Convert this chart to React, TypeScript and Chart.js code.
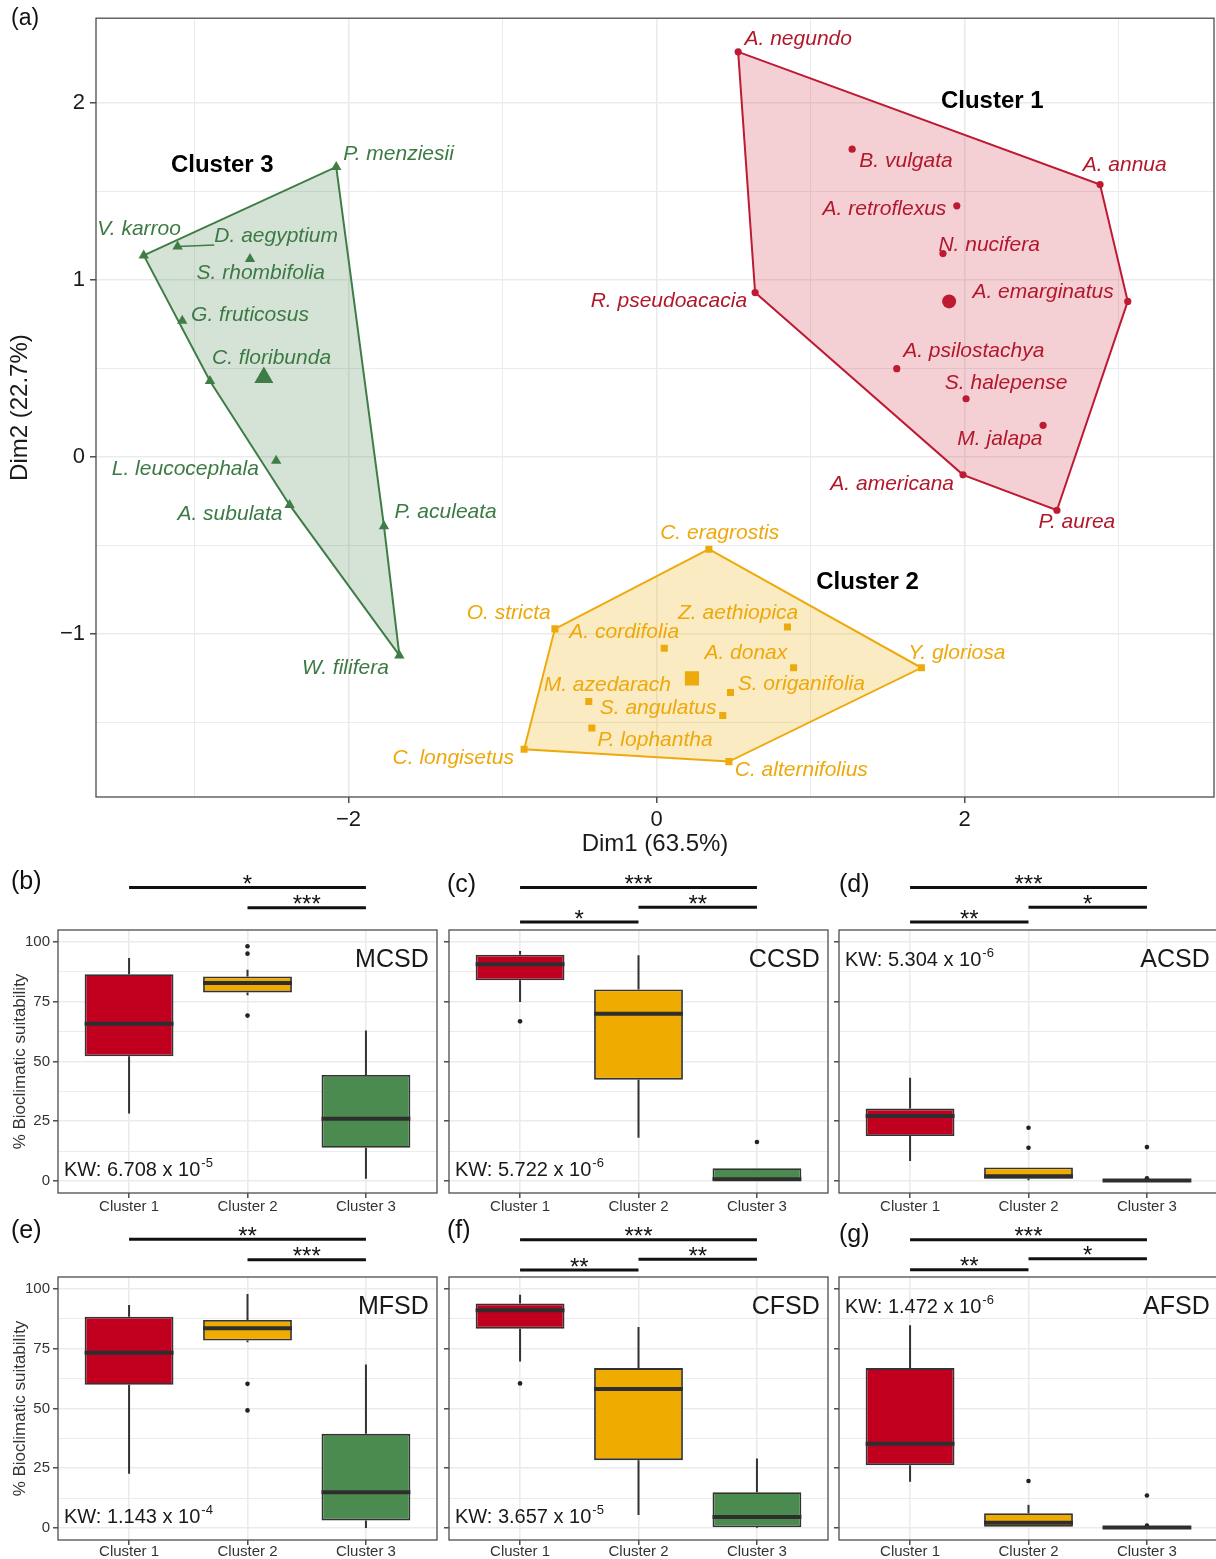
import React, { useEffect, useRef } from 'react';
import { Chart, registerables } from 'chart.js';
Chart.register(...registerables);

const FONT = '"Liberation Sans", Arial, Helvetica, sans-serif';

// ---------------- (a) PCA cluster plot ----------------
const c1Names = ['A. negundo', 'B. vulgata', 'A. annua', 'A. retroflexus', 'N. nucifera', 'A. emarginatus', 'R. pseudoacacia', 'A. psilostachya', 'S. halepense', 'M. jalapa', 'A. americana', 'P. aurea'];
const c1X = [0.53, 1.27, 2.88, 1.95, 1.86, 3.06, 0.64, 1.56, 2.01, 2.51, 1.99, 2.60];
const c1Y = [2.29, 1.74, 1.54, 1.42, 1.15, 0.88, 0.93, 0.50, 0.33, 0.18, -0.10, -0.30];
const c1LabelX = [0.92, 1.62, 3.04, 1.48, 2.16, 2.51, 0.08, 2.06, 2.27, 2.23, 1.53, 2.73];
const c1LabelY = [2.36, 1.67, 1.65, 1.40, 1.20, 0.93, 0.88, 0.60, 0.42, 0.10, -0.15, -0.37];
const c1Hull = [0, 2, 5, 11, 10, 6];
const c1Centroid = [1.90, 0.88];

const c2Names = ['C. eragrostis', 'O. stricta', 'A. cordifolia', 'Z. aethiopica', 'A. donax', 'Y. gloriosa', 'S. origanifolia', 'M. azedarach', 'S. angulatus', 'P. lophantha', 'C. longisetus', 'C. alternifolius'];
const c2X = [0.34, -0.66, 0.05, 0.85, 0.89, 1.72, 0.48, -0.44, 0.43, -0.42, -0.86, 0.47];
const c2Y = [-0.52, -0.97, -1.08, -0.96, -1.19, -1.19, -1.33, -1.38, -1.46, -1.53, -1.65, -1.72];
const c2LabelX = [0.41, -0.96, -0.21, 0.53, 0.58, 1.95, 0.94, -0.32, 0.01, -0.01, -1.32, 0.94];
const c2LabelY = [-0.43, -0.88, -0.99, -0.88, -1.11, -1.11, -1.28, -1.29, -1.42, -1.60, -1.70, -1.77];
const c2Hull = [0, 5, 11, 10, 1];
const c2Centroid = [0.23, -1.25];

const c3Names = ['P. menziesii', 'V. karroo', 'D. aegyptium', 'S. rhombifolia', 'G. fruticosus', 'C. floribunda', 'L. leucocephala', 'A. subulata', 'P. aculeata', 'W. filifera'];
const c3X = [-2.08, -3.33, -3.11, -2.64, -3.08, -2.90, -2.47, -2.383, -1.77, -1.67];
const c3Y = [1.64, 1.14, 1.19, 1.12, 0.77, 0.43, -0.02, -0.27, -0.39, -1.12];
const c3LabelX = [-1.675, -3.36, -2.47, -2.57, -2.64, -2.50, -3.06, -2.77, -1.37, -2.02];
const c3LabelY = [1.71, 1.29, 1.25, 1.04, 0.80, 0.56, -0.07, -0.32, -0.31, -1.19];
const c3Hull = [1, 0, 8, 9, 7, 5];
const c3Centroid = [-2.55, 0.45];

const clusterTitles = ['Cluster 1', 'Cluster 2', 'Cluster 3'];
const clusterTitleX = [2.18, 1.37, -2.82];
const clusterTitleY = [2.01, -0.71, 1.65];

const pcaXGrid = [-3, -2, -1, 0, 1, 2, 3];
const pcaXLabels = [-2, 0, 2];
const pcaYGrid = [-1.5, -1, -0.5, 0, 0.5, 1, 1.5, 2];
const pcaYLabels = [-1, 0, 1, 2];

// ---------------- (b)-(g) box plots ----------------
const clusters = ['Cluster 1', 'Cluster 2', 'Cluster 3'];
const boxYGrid = [0, 12.5, 25, 37.5, 50, 62.5, 75, 87.5, 100];
const boxYLabels = [0, 25, 50, 75, 100];

// stats per cluster: [lower whisker, Q1, median, Q3, upper whisker]
const mcsdStats = [[28.2, 52.2, 65.8, 86.5, 93.3], [77.7, 78.9, 82.8, 85.6, 88.4], [1.0, 13.9, 26.1, 44.4, 63.0]];
const mcsdOut = [[], [98.2, 95.1, 69.2], []];
const mcsdSig: [number, number, number, string][] = [[1, 3, 122.8, '*'], [2, 3, 114.3, '***']];

const ccsdStats = [[74.9, 84.0, 90.7, 94.7, 96.2], [18.1, 42.4, 70.0, 80.1, 94.4], [0, 0, 0.8, 5.4, 5.4]];
const ccsdOut = [[66.8], [], [16.3]];
const ccsdSig: [number, number, number, string][] = [[1, 3, 122.8, '***'], [2, 3, 114.5, '**'], [1, 2, 108.3, '*']];

const acsdStats = [[8.4, 18.8, 27.2, 30.3, 43.2], [0.3, 1.0, 2.0, 5.7, 5.7], [0, 0, 0.2, 0.6, 0.6]];
const acsdOut = [[], [22.3, 13.9], [14.2, 1.2]];
const acsdSig: [number, number, number, string][] = [[1, 3, 122.8, '***'], [2, 3, 114.5, '*'], [1, 2, 108.3, '**']];

const mfsdStats = [[22.7, 59.9, 73.3, 88.4, 93.3], [77.7, 78.4, 83.6, 87.0, 97.9], [0, 3.2, 15.0, 39.4, 68.4]];
const mfsdOut = [[], [60.3, 49.2], []];
const mfsdSig: [number, number, number, string][] = [[1, 3, 120.8, '**'], [2, 3, 112.2, '***']];

const cfsdStats = [[69.7, 83.4, 91.1, 93.9, 97.6], [5.5, 28.4, 58.2, 66.9, 84.1], [0, 0.3, 4.6, 15.0, 29.1]];
const cfsdOut = [[60.5], [], []];
const cfsdSig: [number, number, number, string][] = [[1, 3, 120.6, '***'], [2, 3, 112.4, '**'], [1, 2, 107.9, '**']];

const afsdStats = [[19.4, 26.3, 35.3, 66.9, 84.8], [0.5, 0.5, 2.2, 6.2, 9.7], [0, 0, 0.2, 0.5, 0.5]];
const afsdOut = [[], [19.7], [13.6, 1.0]];
const afsdSig: [number, number, number, string][] = [[1, 3, 120.6, '***'], [2, 3, 112.6, '*'], [1, 2, 108.0, '**']];

const boxColors = ['#C10020', '#F0AB00', '#4B8B4F'];

const isIn = (v: number, list: number[]) => list.some((m) => Math.abs(m - v) < 1e-9);
const fmtMinus = (v: number) => (v < 0 ? '\u2212' + Math.abs(v) : String(v));

// ---------------- PCA chart config ----------------
const groups = [
  { names: c1Names, xs: c1X, ys: c1Y, lx: c1LabelX, ly: c1LabelY, hull: c1Hull, cen: c1Centroid, stroke: '#BE1A32', fill: 'rgba(200,20,45,0.2)', text: '#B2182B', style: 'circle', r: 3.6, rc: 7 },
  { names: c2Names, xs: c2X, ys: c2Y, lx: c2LabelX, ly: c2LabelY, hull: c2Hull, cen: c2Centroid, stroke: '#EEAA0C', fill: 'rgba(240,170,0,0.24)', text: '#EEA80A', style: 'rect', r: 5, rc: 10 },
  { names: c3Names, xs: c3X, ys: c3Y, lx: c3LabelX, ly: c3LabelY, hull: c3Hull, cen: c3Centroid, stroke: '#3E7D45', fill: 'rgba(62,125,69,0.22)', text: '#3C7A44', style: 'triangle', r: 6, rc: 11 },
];

function pcaConfig(): any {
  const datasets: any[] = [];
  groups.forEach((g) => {
    const idx = [...g.hull, g.hull[0]];
    datasets.push({
      type: 'line',
      data: idx.map((i) => ({ x: g.xs[i], y: g.ys[i] })),
      borderColor: g.stroke,
      borderWidth: 2,
      backgroundColor: g.fill,
      fill: 'shape',
      pointRadius: 0,
      tension: 0,
      order: 5,
    });
    datasets.push({
      type: 'scatter',
      data: g.xs.map((x, i) => ({ x, y: g.ys[i] })),
      pointStyle: g.style,
      pointRadius: g.r,
      backgroundColor: g.stroke,
      borderColor: g.stroke,
      borderWidth: 0,
      order: 2,
    });
    datasets.push({
      type: 'scatter',
      data: [{ x: g.cen[0], y: g.cen[1] }],
      pointStyle: g.style,
      pointRadius: g.rc,
      backgroundColor: g.stroke,
      borderColor: g.stroke,
      borderWidth: 0,
      order: 1,
    });
  });

  const labelPlugin = {
    id: 'pcaLabels',
    afterDatasetsDraw(chart: any) {
      const { ctx, scales } = chart;
      const xs = scales.x, ys = scales.y;
      ctx.save();
      ctx.font = `italic 21px ${FONT}`;
      ctx.textAlign = 'center';
      ctx.textBaseline = 'middle';
      groups.forEach((g) => {
        g.names.forEach((n, i) => {
          const px = xs.getPixelForValue(g.xs[i]);
          const py = ys.getPixelForValue(g.ys[i]);
          const lx = xs.getPixelForValue(g.lx[i]);
          const ly = ys.getPixelForValue(g.ly[i]);
          const w = ctx.measureText(n).width;
          const h = 18;
          const nx = Math.max(lx - w / 2, Math.min(px, lx + w / 2));
          const ny = Math.max(ly - h / 2, Math.min(py, ly + h / 2));
          if (Math.hypot(nx - px, ny - py) > 25) {
            ctx.strokeStyle = g.stroke;
            ctx.lineWidth = 1.5;
            ctx.beginPath();
            ctx.moveTo(px, py);
            ctx.lineTo(nx, ny);
            ctx.stroke();
          }
          ctx.fillStyle = g.text;
          ctx.fillText(n, lx, ly);
        });
      });
      ctx.font = `bold 24px ${FONT}`;
      ctx.fillStyle = '#000';
      clusterTitles.forEach((t, i) => {
        ctx.fillText(t, xs.getPixelForValue(clusterTitleX[i]), ys.getPixelForValue(clusterTitleY[i]));
      });
      ctx.restore();
    },
    afterDraw(chart: any) {
      const { ctx, chartArea: a } = chart;
      ctx.save();
      ctx.strokeStyle = '#4D4D4D';
      ctx.lineWidth = 1.3;
      ctx.strokeRect(a.left, a.top, a.right - a.left, a.bottom - a.top);
      ctx.restore();
    },
  };

  return {
    type: 'scatter',
    data: { datasets },
    plugins: [labelPlugin],
    options: {
      animation: false,
      responsive: false,
      events: [],
      layout: { padding: { top: 13, right: 2, left: 0, bottom: 0 }, autoPadding: false },
      plugins: { legend: { display: false }, tooltip: { enabled: false } },
      scales: {
        x: {
          type: 'linear',
          min: -3.64,
          max: 3.62,
          afterBuildTicks: (s: any) => { s.ticks = pcaXGrid.map((v) => ({ value: v })); },
          afterFit: (s: any) => { s.height = 63; },
          ticks: {
            callback: (v: number) => (isIn(v, pcaXLabels) ? fmtMinus(v) : ''),
            font: { family: FONT, size: 22 },
            color: '#1A1A1A',
            padding: 4,
            maxRotation: 0,
            autoSkip: false,
          },
          grid: {
            color: '#EBEBEB',
            lineWidth: (c: any) => (c.tick && isIn(c.tick.value, pcaXLabels) ? 1.6 : 1.0),
            tickLength: 6,
            tickWidth: 1.3,
            tickColor: (c: any) => (c.tick && isIn(c.tick.value, pcaXLabels) ? '#333' : 'rgba(0,0,0,0)'),
          },
          border: { display: false },
          title: { display: true, text: 'Dim1 (63.5%)', font: { family: FONT, size: 24 }, color: '#1A1A1A', padding: { top: 0, bottom: 1 } },
        },
        y: {
          type: 'linear',
          min: -1.92,
          max: 2.48,
          afterBuildTicks: (s: any) => { s.ticks = pcaYGrid.map((v) => ({ value: v })); },
          afterFit: (s: any) => { s.width = 96; },
          ticks: {
            callback: (v: number) => (isIn(v, pcaYLabels) ? fmtMinus(v) : ''),
            font: { family: FONT, size: 22 },
            color: '#1A1A1A',
            padding: 5,
            autoSkip: false,
          },
          grid: {
            color: '#EBEBEB',
            lineWidth: (c: any) => (c.tick && isIn(c.tick.value, pcaYLabels) ? 1.6 : 1.0),
            tickLength: 6,
            tickWidth: 1.3,
            tickColor: (c: any) => (c.tick && isIn(c.tick.value, pcaYLabels) ? '#333' : 'rgba(0,0,0,0)'),
          },
          border: { display: false },
          title: { display: true, text: 'Dim2 (22.7%)', font: { family: FONT, size: 24 }, color: '#1A1A1A', padding: { top: 6, bottom: 0 } },
        },
      },
    },
  };
}

// ---------------- Box plot chart config ----------------
type Panel = {
  key: string; name: string; stats: number[][]; out: number[][]; sig: [number, number, number, string][];
  kwM: string; kwE: string; kwTop: boolean; left: number; top: number; width: number; height: number;
  yLabels: boolean; padTop: number; xH: number; xPad: number;
};

const ROW1 = 860, ROW2 = 1212;
const panels: Panel[] = [
  { key: 'b', name: 'MCSD', stats: mcsdStats, out: mcsdOut, sig: mcsdSig, kwM: '6.708', kwE: '-5', kwTop: false, left: 0, top: ROW1, width: 440, height: 358, yLabels: true, padTop: 70, xH: 25, xPad: 0 },
  { key: 'c', name: 'CCSD', stats: ccsdStats, out: ccsdOut, sig: ccsdSig, kwM: '5.722', kwE: '-6', kwTop: false, left: 440, top: ROW1, width: 390, height: 358, yLabels: false, padTop: 70, xH: 25, xPad: 0 },
  { key: 'd', name: 'ACSD', stats: acsdStats, out: acsdOut, sig: acsdSig, kwM: '5.304', kwE: '-6', kwTop: true, left: 830, top: ROW1, width: 390, height: 358, yLabels: false, padTop: 70, xH: 25, xPad: 0 },
  { key: 'e', name: 'MFSD', stats: mfsdStats, out: mfsdOut, sig: mfsdSig, kwM: '1.143', kwE: '-4', kwTop: false, left: 0, top: ROW2, width: 440, height: 347, yLabels: true, padTop: 65, xH: 19, xPad: -2 },
  { key: 'f', name: 'CFSD', stats: cfsdStats, out: cfsdOut, sig: cfsdSig, kwM: '3.657', kwE: '-5', kwTop: false, left: 440, top: ROW2, width: 390, height: 347, yLabels: false, padTop: 65, xH: 19, xPad: -2 },
  { key: 'g', name: 'AFSD', stats: afsdStats, out: afsdOut, sig: afsdSig, kwM: '1.472', kwE: '-6', kwTop: true, left: 830, top: ROW2, width: 390, height: 347, yLabels: false, padTop: 65, xH: 19, xPad: -2 },
];

function boxConfig(p: Panel): any {
  const plugin = {
    id: 'boxParts' + p.key,
    beforeDatasetsDraw(chart: any) {
      const { ctx, scales } = chart;
      const meta = chart.getDatasetMeta(0);
      ctx.save();
      ctx.strokeStyle = '#333';
      ctx.lineWidth = 2;
      p.stats.forEach((s, i) => {
        const el = meta.data[i];
        if (!el) return;
        const x = el.x;
        ctx.beginPath();
        ctx.moveTo(x, scales.y.getPixelForValue(s[0]));
        ctx.lineTo(x, scales.y.getPixelForValue(s[1]));
        ctx.moveTo(x, scales.y.getPixelForValue(s[3]));
        ctx.lineTo(x, scales.y.getPixelForValue(s[4]));
        ctx.stroke();
      });
      ctx.restore();
    },
    afterDatasetsDraw(chart: any) {
      const { ctx, scales } = chart;
      const meta = chart.getDatasetMeta(0);
      ctx.save();
      ctx.strokeStyle = '#2E2E2E';
      ctx.lineWidth = 4;
      p.stats.forEach((s, i) => {
        const el = meta.data[i];
        if (!el) return;
        const y = scales.y.getPixelForValue(s[2]);
        ctx.beginPath();
        ctx.moveTo(el.x - el.width / 2, y);
        ctx.lineTo(el.x + el.width / 2, y);
        ctx.stroke();
      });
      ctx.restore();
    },
    afterDraw(chart: any) {
      const { ctx, chartArea: a, scales } = chart;
      const xs = scales.x, ys = scales.y;
      ctx.save();
      ctx.strokeStyle = '#4D4D4D';
      ctx.lineWidth = 1.3;
      ctx.strokeRect(a.left, a.top, a.right - a.left, a.bottom - a.top);
      // panel name
      ctx.fillStyle = '#1A1A1A';
      ctx.font = `25px ${FONT}`;
      ctx.textAlign = 'right';
      ctx.textBaseline = 'middle';
      ctx.fillText(p.name, xs.getPixelForValue(3.53), ys.getPixelForValue(92.5));
      // KW
      ctx.textAlign = 'left';
      ctx.font = `20px ${FONT}`;
      const kx = xs.getPixelForValue(0.45);
      const ky = ys.getPixelForValue(p.kwTop ? 92.3 : 4.6);
      const main = `KW: ${p.kwM} x 10`;
      ctx.fillText(main, kx, ky);
      const w = ctx.measureText(main).width;
      ctx.font = `13px ${FONT}`;
      ctx.fillText(p.kwE, kx + w + 1, ky - 7);
      // significance bars
      ctx.strokeStyle = '#111';
      ctx.fillStyle = '#111';
      ctx.lineWidth = 3;
      ctx.textAlign = 'center';
      ctx.textBaseline = 'alphabetic';
      ctx.font = `24px ${FONT}`;
      p.sig.forEach(([f, t, yv, stars]) => {
        const x1 = xs.getPixelForValue(f);
        const x2 = xs.getPixelForValue(t);
        const y = ys.getPixelForValue(yv);
        ctx.beginPath();
        ctx.moveTo(x1, y);
        ctx.lineTo(x2, y);
        ctx.stroke();
        ctx.fillText(stars, (x1 + x2) / 2, y + 4.5);
      });
      ctx.restore();
    },
  };

  const outliers: { x: number; y: number }[] = [];
  p.out.forEach((arr, i) => arr.forEach((v) => outliers.push({ x: i + 1, y: v })));

  return {
    type: 'bar',
    data: {
      datasets: [
        {
          type: 'bar',
          data: p.stats.map((s, i) => ({ x: i + 1, y: [s[1], s[3]] })),
          backgroundColor: boxColors,
          borderColor: '#333',
          borderWidth: 1.8,
          borderSkipped: false,
          barPercentage: 0.75,
          categoryPercentage: 1,
          order: 2,
        },
        {
          type: 'scatter',
          data: outliers,
          pointRadius: 2.3,
          backgroundColor: '#222',
          borderWidth: 0,
          order: 1,
        },
      ],
    },
    plugins: [plugin],
    options: {
      animation: false,
      responsive: false,
      events: [],
      layout: { padding: { top: p.padTop, right: p.width === 440 ? 3 : 2, left: 0, bottom: 0 }, autoPadding: false },
      plugins: { legend: { display: false }, tooltip: { enabled: false } },
      scales: {
        x: {
          type: 'linear',
          min: 0.4,
          max: 3.6,
          offset: false,
          afterBuildTicks: (s: any) => { s.ticks = clusters.map((_, i) => ({ value: i + 1 })); },
          afterFit: (s: any) => { s.height = p.xH; },
          ticks: {
            callback: (v: number) => clusters[Math.round(v) - 1] ?? '',
            font: { family: FONT, size: 15 },
            color: '#333',
            padding: p.xPad,
            maxRotation: 0,
            autoSkip: false,
          },
          grid: { offset: false, color: '#EBEBEB', lineWidth: 1.6, tickLength: 5, tickWidth: 1.3, tickColor: '#333' },
          border: { display: false },
        },
        y: {
          type: 'linear',
          min: -5,
          max: 105,
          afterBuildTicks: (s: any) => { s.ticks = boxYGrid.map((v) => ({ value: v })); },
          afterFit: (s: any) => { s.width = p.yLabels ? 58 : 9; },
          ticks: {
            display: p.yLabels,
            callback: (v: number) => (isIn(v, boxYLabels) ? String(v) : ''),
            font: { family: FONT, size: 15 },
            color: '#333',
            padding: 3,
            autoSkip: false,
          },
          grid: {
            color: '#EBEBEB',
            lineWidth: (c: any) => (c.tick && isIn(c.tick.value, boxYLabels) ? 1.6 : 1.0),
            tickLength: 5,
            tickWidth: 1.3,
            tickColor: (c: any) => (c.tick && isIn(c.tick.value, boxYLabels) ? '#333' : 'rgba(0,0,0,0)'),
          },
          border: { display: false },
          title: {
            display: p.yLabels,
            text: '% Bioclimatic suitability',
            font: { family: FONT, size: 17 },
            color: '#333',
            padding: { top: 10, bottom: 0 },
          },
        },
      },
    },
  };
}

function ChartBox({ left, top, width, height, make }: { left: number; top: number; width: number; height: number; make: () => any }) {
  const ref = useRef<HTMLCanvasElement>(null);
  useEffect(() => {
    if (!ref.current) return;
    const chart = new Chart(ref.current, make());
    return () => chart.destroy();
  }, []);
  return (
    <div style={{ position: 'absolute', left, top, width, height }}>
      <canvas ref={ref} width={width} height={height} style={{ width, height, display: 'block' }} />
    </div>
  );
}

const letterStyle = (left: number, top: number, size: number): React.CSSProperties => ({
  position: 'absolute', left, top, fontSize: size, lineHeight: 1, fontFamily: FONT, color: '#111',
});

export default function App() {
  return (
    <div style={{ position: 'absolute', left: 0, top: 0, width: 1216, height: 1559, overflow: 'hidden', background: '#fff', fontFamily: FONT }}>
      <ChartBox left={0} top={0} width={1216} height={860} make={pcaConfig} />
      {panels.map((p) => (
        <ChartBox key={p.key} left={p.left} top={p.top} width={p.width} height={p.height} make={() => boxConfig(p)} />
      ))}
      <div style={letterStyle(11, 6, 23)}>(a)</div>
      <div style={letterStyle(11, 868, 25)}>(b)</div>
      <div style={letterStyle(447, 871, 25)}>(c)</div>
      <div style={letterStyle(839, 871, 25)}>(d)</div>
      <div style={letterStyle(11, 1217, 25)}>(e)</div>
      <div style={letterStyle(447, 1217, 25)}>(f)</div>
      <div style={letterStyle(839, 1221, 25)}>(g)</div>
    </div>
  );
}
